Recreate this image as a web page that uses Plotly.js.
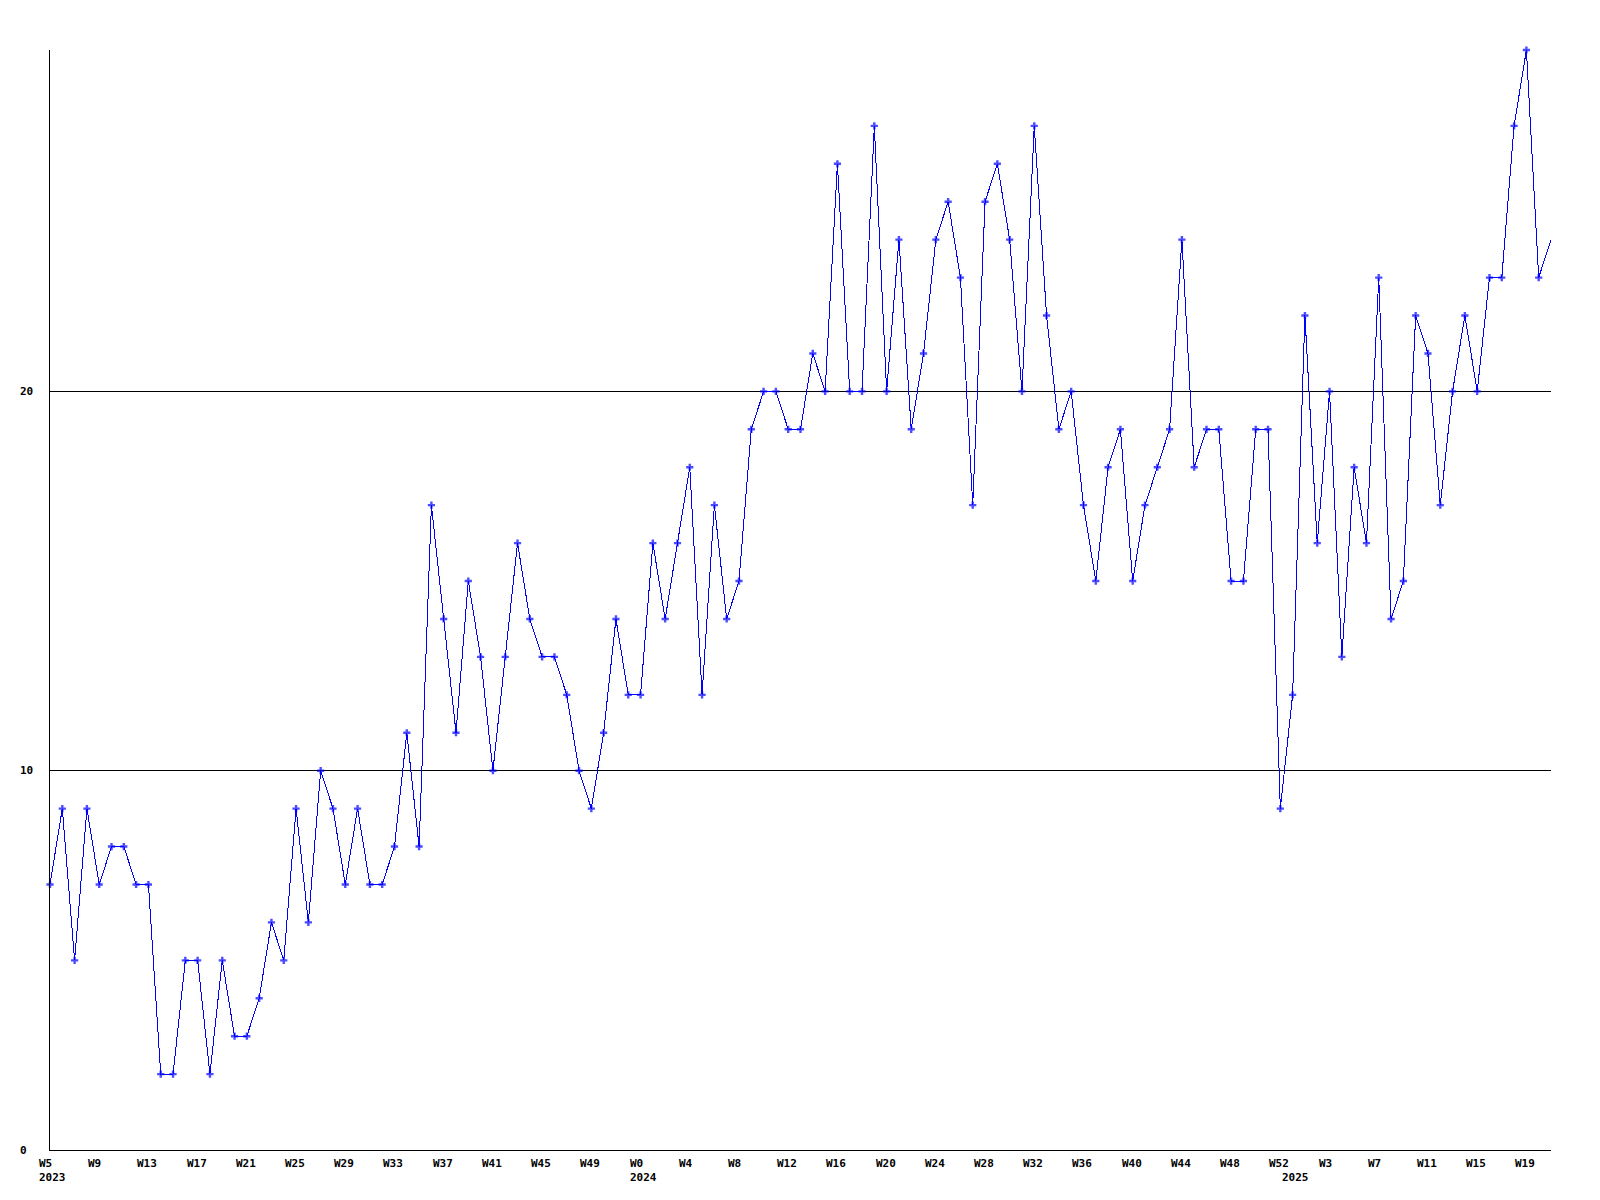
<!DOCTYPE html>
<html>
<head>
<meta charset="utf-8">
<script src="https://cdn.plot.ly/plotly-3.0.1.min.js"></script>
<style>
html, body { margin: 0; padding: 0; background: #ffffff; }
#chart { width: 1600px; height: 1200px; }
#chart .scatterlayer .js-line { shape-rendering: crispEdges; }
#chart .gridlayer path, #chart .xlines-above, #chart .ylines-above { shape-rendering: crispEdges; }
</style>
</head>
<body>
<div id="chart"></div>
<script>
// ---- data ----
const years = [2023, 2024, 2025];
const yearFirstWeek = [5, 0, 0];
const yearLastWeek = [52, 52, 21];

const values = [
  7, 9, 5, 9, 7, 8, 8, 7, 7, 2, 2, 5, 5, 2, 5, 3, 3, 4, 6, 5,
  9, 6, 10, 9, 7, 9, 7, 7, 8, 11, 8, 17, 14, 11, 15, 13, 10, 13, 16, 14,
  13, 13, 12, 10, 9, 11, 14, 12, 12, 16, 14, 16, 18, 12, 17, 14, 15, 19, 20, 20,
  19, 19, 21, 20, 26, 20, 20, 27, 20, 24, 19, 21, 24, 25, 23, 17, 25, 26, 24, 20,
  27, 22, 19, 20, 17, 15, 18, 19, 15, 17, 18, 19, 24, 18, 19, 19, 15, 15, 19, 19,
  9, 12, 22, 16, 20, 13, 18, 16, 23, 14, 15, 22, 21, 17, 20, 22, 20, 23, 23, 27,
  29, 23, 24
];

const yTickValues = [0, 10, 20];
const gridValues = [10, 20];
const weekTickStep = 4;

// ---- build categories ----
const weekNames = [];
const yearStartIndex = [];
years.forEach((yr, k) => {
  yearStartIndex.push(weekNames.length);
  for (let w = yearFirstWeek[k]; w <= yearLastWeek[k]; w++) weekNames.push('W' + w);
});

const xIdx = values.map((_, i) => i);
const lastIdx = values.length - 1;

const labelFont = { family: 'DejaVu Sans Mono', size: 11, color: '#000000', weight: 'bold' };

const annotations = [];
// week tick labels
for (let i = 0; i < weekNames.length; i += weekTickStep) {
  annotations.push({
    x: i, xref: 'x', y: 0, yref: 'y',
    text: weekNames[i], showarrow: false,
    xanchor: 'left', yanchor: 'top',
    xshift: -13, yshift: -5,
    font: labelFont
  });
}
// year labels
years.forEach((yr, k) => {
  annotations.push({
    x: yearStartIndex[k], xref: 'x', y: 0, yref: 'y',
    text: String(yr), showarrow: false,
    xanchor: 'left', yanchor: 'top',
    xshift: -13, yshift: -19,
    font: labelFont
  });
});
// y tick labels
yTickValues.forEach(v => {
  annotations.push({
    x: 0, xref: 'paper', y: v, yref: 'y',
    text: String(v), showarrow: false,
    xanchor: 'left', yanchor: 'middle',
    xshift: -32, yshift: 0,
    font: labelFont
  });
});

const trace = {
  x: xIdx,
  y: values,
  type: 'scatter',
  mode: 'lines+markers',
  line: { color: '#0000ff', width: 1 },
  marker: {
    symbol: 'cross',
    size: values.map((_, i) => (i === lastIdx ? 0 : 6)),
    color: '#0000ff',
    line: { width: 0 }
  },
  cliponaxis: false,
  hoverinfo: 'skip'
};

const layout = {
  width: 1600,
  height: 1200,
  margin: { l: 50, r: 49, t: 50, b: 50, pad: 0 },
  paper_bgcolor: '#ffffff',
  plot_bgcolor: '#ffffff',
  showlegend: false,
  xaxis: {
    range: [0, lastIdx],
    showgrid: false,
    zeroline: false,
    showline: true,
    linecolor: '#000000',
    linewidth: 1,
    showticklabels: false,
    ticks: ''
  },
  yaxis: {
    range: [0, 29],
    tickvals: gridValues,
    showgrid: true,
    gridcolor: '#000000',
    gridwidth: 1,
    zeroline: false,
    showline: true,
    linecolor: '#000000',
    linewidth: 1,
    showticklabels: false,
    ticks: ''
  },
  annotations: annotations
};

Plotly.newPlot('chart', [trace], layout, { displayModeBar: false, staticPlot: true });
</script>
</body>
</html>
